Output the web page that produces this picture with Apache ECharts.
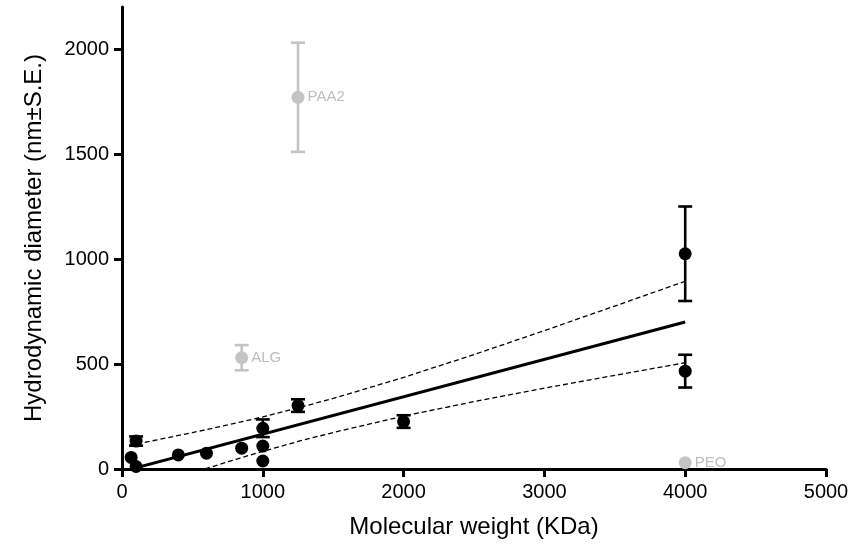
<!DOCTYPE html>
<html>
<head>
<meta charset="utf-8">
<script src="https://cdn.jsdelivr.net/npm/echarts@6/dist/echarts.min.js"></script>
<style>html,body{margin:0;padding:0;background:#fff}#c{width:852px;height:553px}</style>
</head>
<body>
<div id="c"></div>
<script>
// Black (fitted) data points
const blackX = [65, 100, 100, 400, 600, 850, 1000, 1000, 1000, 1250, 2000, 4000, 4000];
const blackY = [55, 12, 133, 67, 75, 99, 194, 109, 38, 302, 226, 1025, 466];
const blackErr = [0, 0, 22, 0, 0, 0, 42, 0, 0, 30, 30, 225, 78];

// Grey (excluded) data points
const grayX = [1250, 850, 4000];
const grayY = [1770, 530, 30];
const grayErr = [260, 60, 0];
const grayLabels = ['PAA2', 'ALG', 'PEO'];

// Regression line and confidence band
const fitX = [50, 4000];
const fitY = [-3, 700];
const bandX = [50, 250, 500, 750, 1000, 1250, 1500, 2000, 2500, 3000, 3500, 4000];
const upperY = [112, 139, 173, 210, 248, 291, 336, 436, 545, 659, 776, 894];
const lowerY = [-118, -74, -19, 34, 84, 131, 174, 252, 321, 385, 446, 506];

// Axis ticks
const yTicks = [0, 500, 1000, 1500, 2000];

const FONT = "'Liberation Sans', Arial, sans-serif";
const zip = (xs, ys) => xs.map((x, i) => [x, ys[i]]);
const zip3 = (xs, ys, es) => xs.map((x, i) => [x, ys[i], es[i]]);

function errRender(color) {
  return function (params, api) {
    const x = api.value(0), y = api.value(1), e = api.value(2);
    if (!e) return;
    const top = api.coord([x, y + e]);
    const bot = api.coord([x, y - e]);
    const hw = 7;
    const st = { stroke: color, lineWidth: 2.6 };
    return {
      type: 'group',
      children: [
        { type: 'line', shape: { x1: top[0], y1: top[1], x2: bot[0], y2: bot[1] }, style: st },
        { type: 'line', shape: { x1: top[0] - hw, y1: top[1], x2: top[0] + hw, y2: top[1] }, style: st },
        { type: 'line', shape: { x1: bot[0] - hw, y1: bot[1], x2: bot[0] + hw, y2: bot[1] }, style: st }
      ]
    };
  };
}

const chart = echarts.init(document.getElementById('c'), null, { renderer: 'canvas' });
chart.setOption({
  animation: false,
  backgroundColor: '#fff',
  textStyle: { fontFamily: FONT },
  grid: { left: 122, right: 26, top: 7, bottom: 84, containLabel: false },
  xAxis: {
    type: 'value', min: 0, max: 5000, interval: 1000,
    name: 'Molecular weight (KDa)', nameLocation: 'middle', nameGap: 46,
    nameTextStyle: { fontSize: 24, color: '#000', fontFamily: FONT },
    axisLine: { show: true, onZero: false, lineStyle: { color: '#000', width: 3 } },
    axisTick: { show: true, length: 8, lineStyle: { color: '#000', width: 3 } },
    axisLabel: { fontSize: 20, color: '#000', margin: 13, fontFamily: FONT, formatter: v => String(v) },
    splitLine: { show: false }
  },
  yAxis: {
    type: 'value', min: 0, max: 2200, interval: 500,
    name: 'Hydrodynamic diameter (nm±S.E.)', nameLocation: 'middle', nameGap: 76,
    nameTextStyle: { fontSize: 24, color: '#000', fontFamily: FONT },
    axisLine: { show: true, onZero: false, lineStyle: { color: '#000', width: 3 } },
    axisTick: { show: true, length: 8, customValues: yTicks, lineStyle: { color: '#000', width: 3 } },
    axisLabel: { fontSize: 20, color: '#000', margin: 13, customValues: yTicks, fontFamily: FONT, formatter: v => String(v) },
    splitLine: { show: false }
  },
  series: [
    {
      type: 'line', data: zip(bandX, upperY), symbol: 'none', clip: true,
      lineStyle: { color: '#000', width: 1.3, type: [5, 3] }, z: 2
    },
    {
      type: 'line', data: zip(bandX, lowerY), symbol: 'none', clip: true,
      lineStyle: { color: '#000', width: 1.3, type: [5, 3] }, z: 2
    },
    {
      type: 'line', data: zip(fitX, fitY), symbol: 'none', clip: true,
      lineStyle: { color: '#000', width: 3 }, z: 3
    },
    {
      type: 'custom', data: zip3(grayX, grayY, grayErr), renderItem: errRender('#c4c4c4'),
      encode: { x: 0, y: 1 }, z: 4, silent: true
    },
    {
      type: 'scatter', symbol: 'circle', symbolSize: 13,
      data: grayX.map((x, i) => ({ value: [x, grayY[i]], name: grayLabels[i] })),
      itemStyle: { color: '#c4c4c4', opacity: 1 },
      label: { show: true, position: 'right', distance: 3, formatter: '{b}', color: '#bdbdbd', fontSize: 15, fontFamily: FONT },
      z: 5
    },
    {
      type: 'custom', data: zip3(blackX, blackY, blackErr), renderItem: errRender('#000'),
      encode: { x: 0, y: 1 }, z: 6, silent: true
    },
    {
      type: 'scatter', symbol: 'circle', symbolSize: 13,
      data: zip(blackX, blackY),
      itemStyle: { color: '#000', opacity: 1 }, z: 7
    }
  ]
});
</script>
</body>
</html>
